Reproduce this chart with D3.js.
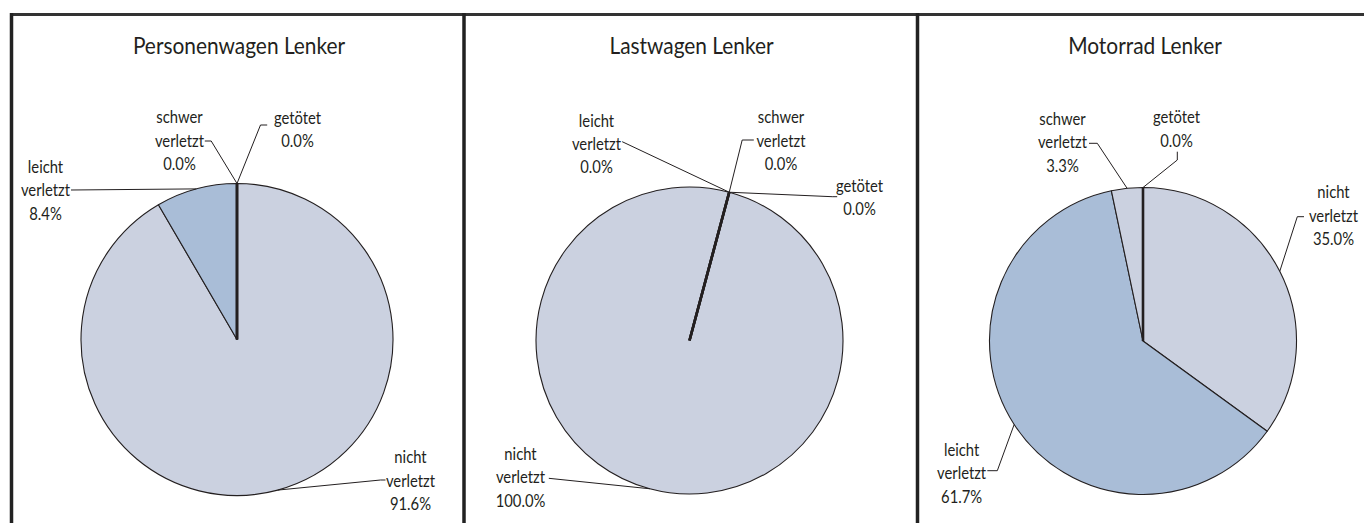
<!DOCTYPE html>
<html>
<head>
<meta charset="utf-8">
<script src="https://cdn.jsdelivr.net/npm/d3@7"></script>
<style>
  html, body { margin: 0; padding: 0; background: #fff; }
  svg { display: block; }
  text { font-family: Lato, sans-serif; fill: #231f20; }
</style>
</head>
<body>
<svg id="chart" width="1364" height="523"></svg>
<script>
/* Unfallfolgen nach Lenkertyp: three pies, one per vehicle type */
var panelTitles = ['Personenwagen Lenker', 'Lastwagen Lenker', 'Motorrad Lenker'];
var categories = ['nicht verletzt', 'leicht verletzt', 'schwer verletzt', 'get\u00f6tet'];
var pkwValues = [91.6, 8.4, 0.0, 0.0];
var lkwValues = [100.0, 0.0, 0.0, 0.0];
var motoValues = [35.0, 61.7, 3.3, 0.0];

(function () {
  'use strict';

  var W = 1364, H = 523;
  var svg = d3.select('#chart');
  var ink = '#231f20';
  var squeeze = 0.87;   // the original face is a condensed sans

  var color = d3.scaleOrdinal()
    .domain(categories)
    .range(['#cbd1e0', '#a9bdd7', '#cbd1e0', '#8fa6c8']);

  var fmt = function (v) { return d3.format('.1f')(v) + '%'; };

  /* panel frames: left edges of the three panels */
  var panelX = [11.5, 464, 917.5];
  var pies = [
    { values: pkwValues, r: 156, cy: 339.5, start: 0 },
    { values: lkwValues, r: 153.5, cy: 340.5, start: 15 },
    { values: motoValues, r: 153.5, cy: 341, start: 0 }
  ];

  /* label placement relative to the pie centre: block centre / first baseline,
     then leader elbow points (leader starts on the slice's outer arc) */
  var labelLayout = [
    [
      { dx: 173.5, dy: 123.8, lead: [[143.5, 140.5], [148.5, 140.5]] },
      { dx: -191.5, dy: -166.5, lead: [[-166, -149.5]] },
      { dx: -57.5, dy: -216.2, lead: [[-25.8, -198.5], [-32.2, -198.5]] },
      { dx: 60.5, dy: -215.5, lead: [[23.5, -214.5], [30.2, -214.5]] }
    ],
    [
      { dx: -169, dy: 119.5, lead: [[-140.7, 137.8]] },
      { dx: -93, dy: -213.8, lead: [[-67.3, -198.8]] },
      { dx: 91.5, dy: -217.2, lead: [[52.7, -200.5], [64.3, -200.5]] },
      { dx: 170, dy: -148.8, lead: [[142.7, -143.8], [147.7, -143.8]] }
    ],
    [
      { dx: 190.5, dy: -142.7, lead: [[154.3, -124.3], [161, -124.3]] },
      { dx: -181.4, dy: 115, lead: [[-145.7, 129.7], [-155.7, 129.7]] },
      { dx: -80.5, dy: -216, lead: [[-45.7, -197.7], [-54, -197.7]] },
      { dx: 33.5, dy: -217.7, lead: [[34.3, -181], [34.3, -189.3]] }
    ]
  ];

  var lineGap = 23.3;

  /* frame lines */
  svg.append('line')
    .attr('x1', 10).attr('x2', W).attr('y1', 14.5).attr('y2', 14.5)
    .attr('stroke', '#333').attr('stroke-width', 3);
  panelX.forEach(function (x) {
    svg.append('line')
      .attr('x1', x).attr('x2', x).attr('y1', 13).attr('y2', H)
      .attr('stroke', '#222').attr('stroke-width', 3.5);
  });

  function squeezed(parent, x, y) {
    return parent.append('g')
      .attr('transform', 'translate(' + x + ',' + y + ') scale(' + squeeze + ',1)');
  }

  pies.forEach(function (p, i) {
    var cx = panelX[i] + 225.5, cy = p.cy;
    var g = svg.append('g').attr('transform', 'translate(' + cx + ',' + cy + ')');

    var pie = d3.pie().sort(null).value(function (d) { return d.v; })
      .startAngle(p.start * Math.PI / 180)
      .endAngle(p.start * Math.PI / 180 + 2 * Math.PI);
    var rows = categories.map(function (c, k) { return { cat: c, v: p.values[k] }; });
    var arcs = pie(rows);
    var arc = d3.arc().innerRadius(0).outerRadius(p.r);

    g.selectAll('path.slice')
      .data(arcs.filter(function (a) { return a.data.v > 0; }))
      .enter().append('path')
      .attr('class', 'slice')
      .attr('d', arc)
      .attr('fill', function (a) { return color(a.data.cat); })
      .attr('stroke', ink).attr('stroke-width', 1.1)
      .attr('stroke-linejoin', 'round');

    g.selectAll('path.zero')
      .data(arcs.filter(function (a) { return a.data.v === 0; }))
      .enter().append('path')
      .attr('class', 'zero')
      .attr('d', arc)
      .attr('fill', 'none')
      .attr('stroke', ink).attr('stroke-width', 2.6);

    /* title */
    squeezed(svg, cx + 2, 54).append('text')
      .attr('text-anchor', 'middle')
      .style('font-size', '24px')
      .text(panelTitles[i]);

    /* labels with leader lines */
    arcs.forEach(function (a, k) {
      var lay = labelLayout[i][k];
      var mid = (a.startAngle + a.endAngle) / 2;
      var start = [p.r * Math.sin(mid), -p.r * Math.cos(mid)];
      var pts = [start].concat(lay.lead);
      g.append('path')
        .attr('d', d3.line()(pts))
        .attr('fill', 'none')
        .attr('stroke', ink).attr('stroke-width', 1);

      var lines = a.data.cat.split(' ').concat([fmt(a.data.v)]);
      var t = squeezed(g, lay.dx, lay.dy).append('text')
        .attr('text-anchor', 'middle')
        .style('font-size', '17px');
      lines.forEach(function (s, j) {
        t.append('tspan')
          .attr('x', 0)
          .attr('y', j * lineGap)
          .text(s);
      });
    });
  });
})();
</script>
</body>
</html>
